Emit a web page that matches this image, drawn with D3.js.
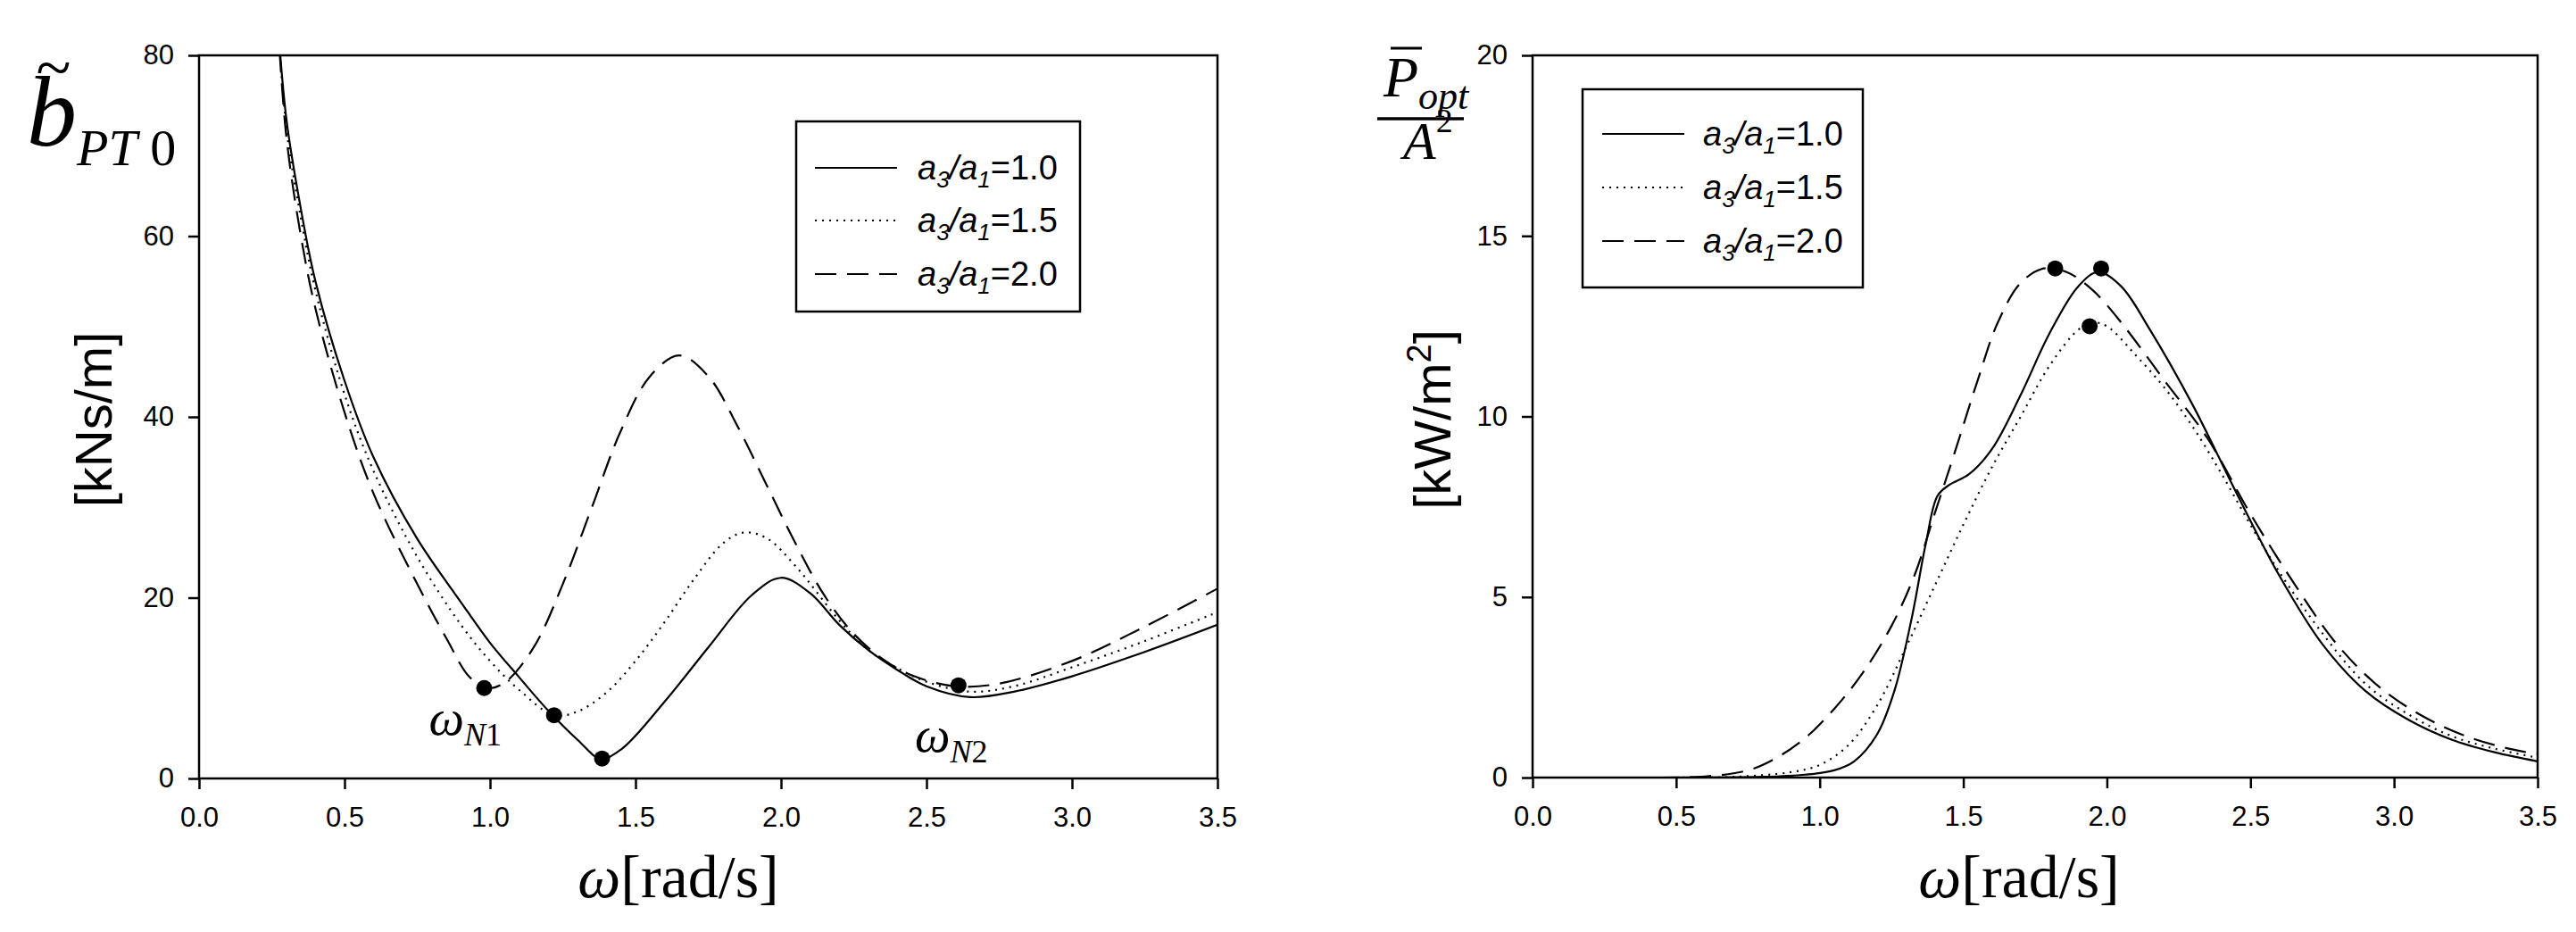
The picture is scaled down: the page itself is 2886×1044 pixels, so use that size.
<!DOCTYPE html>
<html><head><meta charset="utf-8">
<script src="https://cdn.jsdelivr.net/npm/d3@7"></script>
<style>body{margin:0;background:#fff}svg{display:block}
.tick text{font-family:"Liberation Sans Narrow","Liberation Sans",Arial,sans-serif;font-size:31px;fill:#000}</style>
</head><body><svg id="c" width="2886" height="1044"></svg>
<script>
// ---- data ----
const seriesNames = ["a3/a1=1.0","a3/a1=1.5","a3/a1=2.0"];
const xTicks = [0,0.5,1.0,1.5,2.0,2.5,3.0,3.5];
const leftYTicks = [0,20,40,60,80];
const rightYTicks = [0,5,10,15,20];
// left panel: b_PT0 [kNs/m]
const bW10 = [[0.27,84],[0.3,73],[0.35,63],[0.4,55],[0.5,44],[0.6,35.5],[0.75,26.5],[0.9,19.5],[1.0,15],[1.1,11.2],[1.2,7.5],[1.3,4.3],[1.38,2.2],[1.45,3.2],[1.6,8.5],[1.75,14.5],[1.9,20.3],[2.0,22.2],[2.1,20.5],[2.2,17],[2.3,14.2],[2.4,12],[2.5,10.2],[2.65,9.0],[2.8,9.6],[3.0,11.3],[3.25,14],[3.5,17]];
const bW15 = [[0.27,84],[0.3,72],[0.35,62],[0.4,54],[0.5,42.5],[0.6,34],[0.75,24.5],[0.9,17],[1.0,13],[1.1,9.8],[1.22,7.0],[1.3,7.4],[1.4,9.5],[1.5,13],[1.6,17.3],[1.7,22],[1.8,26],[1.87,27.2],[1.95,26.6],[2.05,23.5],[2.2,17.5],[2.3,14.2],[2.4,12.2],[2.5,10.7],[2.65,9.6],[2.8,10.2],[3.0,12.3],[3.25,15.2],[3.5,18.4]];
const bW20 = [[0.27,84],[0.3,71],[0.35,60],[0.4,52],[0.5,40.5],[0.6,31.5],[0.75,21.5],[0.85,15.5],[0.93,11.2],[0.99,10.0],[1.05,10.6],[1.15,14.5],[1.25,21.5],[1.35,30],[1.45,38.5],[1.55,44.5],[1.65,46.8],[1.75,44.5],[1.85,39],[1.95,32.5],[2.05,26],[2.15,20.2],[2.25,16],[2.35,13.2],[2.45,11.4],[2.6,10.2],[2.75,10.5],[3.0,13],[3.25,16.8],[3.5,21]];
const leftDots = [[0.98,10],[1.22,7],[1.385,2.2],[2.61,10.3]];
// right panel: P_opt / A^2 [kW/m^2]
const pW10 = [[0.1,0],[0.5,0],[0.8,0.02],[0.95,0.08],[1.05,0.2],[1.12,0.45],[1.2,1.2],[1.26,2.4],[1.32,4.4],[1.37,6.5],[1.41,7.8],[1.45,8.1],[1.52,8.4],[1.6,9.1],[1.7,10.6],[1.8,12.3],[1.9,13.6],[1.97,14.0],[2.05,13.6],[2.15,12.4],[2.3,10.3],[2.45,7.9],[2.6,5.6],[2.75,3.7],[2.9,2.4],[3.05,1.6],[3.2,1.05],[3.35,0.7],[3.5,0.45]];
const pW15 = [[0.1,0],[0.5,0],[0.7,0.02],[0.9,0.15],[1.0,0.35],[1.1,0.9],[1.2,2.0],[1.3,3.6],[1.4,5.3],[1.5,7.0],[1.6,8.6],[1.7,10.0],[1.8,11.4],[1.9,12.4],[1.95,12.6],[2.0,12.5],[2.1,11.7],[2.2,10.8],[2.3,9.7],[2.4,8.4],[2.5,7.0],[2.6,5.7],[2.75,4.0],[2.9,2.6],[3.05,1.75],[3.2,1.15],[3.35,0.8],[3.5,0.55]];
const pW20 = [[0.1,0],[0.45,0],[0.6,0.03],[0.75,0.2],[0.85,0.55],[0.95,1.1],[1.05,1.9],[1.15,2.9],[1.25,4.2],[1.33,5.6],[1.4,7.3],[1.47,9.0],[1.55,11.0],[1.62,12.6],[1.7,13.7],[1.78,14.1],[1.86,14.0],[1.95,13.5],[2.05,12.6],[2.2,11.0],[2.35,9.4],[2.5,7.3],[2.65,5.4],[2.8,3.7],[2.95,2.5],[3.1,1.7],[3.25,1.15],[3.4,0.8],[3.5,0.65]];
const rightDots = [[1.82,14.1],[1.98,14.1],[1.94,12.5]];

const dashes = [null,"2,6","24,12"];
const svg = d3.select("#c");
const TXT = 'font-family:"Liberation Sans",Arial,sans-serif';
const SER = 'font-family:"Liberation Serif","Times New Roman",serif';

function panel(x0,x1,y0,y1,yMax,yTicks,series,dots){
  const x = d3.scaleLinear().domain([0,3.5]).range([x0,x1]);
  const y = d3.scaleLinear().domain([0,yMax]).range([y1,y0]);
  const id = "clip"+x0;
  svg.append("clipPath").attr("id",id).append("rect").attr("x",x0).attr("y",y0).attr("width",x1-x0).attr("height",y1-y0);
  const line = d3.line().x(d=>x(d[0])).y(d=>y(d[1])).curve(d3.curveCatmullRom.alpha(0.5));
  series.forEach((s,i)=>{
    svg.append("path").attr("d",line(s)).attr("fill","none").attr("stroke","#000")
      .attr("stroke-width",2.2).attr("stroke-dasharray",dashes[i]).attr("clip-path",`url(#${id})`);
  });
  svg.selectAll(null).data(dots).join("circle").attr("cx",d=>x(d[0])).attr("cy",d=>y(d[1])).attr("r",9).attr("fill","#000");
  svg.append("rect").attr("x",x0).attr("y",y0).attr("width",x1-x0).attr("height",y1-y0).attr("fill","none").attr("stroke","#000").attr("stroke-width",2.5);
  const gx = svg.append("g").attr("transform",`translate(0,${y1})`)
    .call(d3.axisBottom(x).tickValues(xTicks).tickFormat(d3.format(".1f")).tickSize(12).tickPadding(20));
  const gy = svg.append("g").attr("transform",`translate(${x0},0)`)
    .call(d3.axisLeft(y).tickValues(yTicks).tickSize(12).tickPadding(16));
  [gx,gy].forEach(g=>{g.select(".domain").remove();g.selectAll("line").attr("stroke-width",2.5);});
  return {x,y};
}

const L = panel(223,1364,62,872,80,leftYTicks,[bW10,bW15,bW20],leftDots);
const R = panel(1717,2843,62,871,20,rightYTicks,[pW10,pW15,pW20],rightDots);

function legend(bx,by,bw,bh,lx,tx,ys){
  svg.append("rect").attr("x",bx).attr("y",by).attr("width",bw).attr("height",bh).attr("fill","#fff").attr("stroke","#000").attr("stroke-width",2.5);
  ys.forEach((yy,i)=>{
    svg.append("line").attr("x1",lx).attr("x2",lx+92).attr("y1",yy).attr("y2",yy).attr("stroke","#000").attr("stroke-width",2.2).attr("stroke-dasharray",dashes[i]);
    const t = svg.append("text").attr("x",tx).attr("y",yy+13).attr("style",TXT).attr("font-size",38);
    const val = seriesNames[i].split("=")[1];
    t.append("tspan").attr("font-style","italic").text("a");
    t.append("tspan").attr("font-style","italic").attr("font-size",26).attr("dy",9).text("3");
    t.append("tspan").attr("font-style","italic").attr("dy",-9).text("/a");
    t.append("tspan").attr("font-style","italic").attr("font-size",26).attr("dy",9).text("1");
    t.append("tspan").attr("dy",-9).text("="+val);
  });
}
legend(892,136,318,213,913,1028,[188,247,307]);
legend(1773,100,314,222,1795,1908,[150,210,270]);

function xTitle(cx){
  const t = svg.append("text").attr("x",cx).attr("y",1005).attr("text-anchor","middle").attr("style",SER).attr("font-size",68);
  t.append("tspan").attr("font-style","italic").text("ω");
  t.append("tspan").text("[rad/s]");
}
xTitle(760); xTitle(2262);

svg.append("text").attr("transform","translate(125,470) rotate(-90)").attr("text-anchor","middle")
  .attr("style",TXT).attr("font-size",58).text("[kNs/m]");
svg.append("text").attr("transform","translate(1625,470) rotate(-90)").attr("text-anchor","middle")
  .attr("style",TXT).attr("font-size",58).html('[kW/m<tspan font-size="38" dy="-22">2</tspan><tspan dy="22">]</tspan>');

// b~_PT0
const bt = svg.append("text").attr("x",30).attr("y",163).attr("style",SER).attr("font-size",112);
bt.append("tspan").attr("font-style","italic").text("b");
bt.append("tspan").attr("font-style","italic").attr("font-size",58).attr("dy",22).text("PT");
bt.append("tspan").attr("font-size",58).text(" 0");
svg.append("text").attr("x",60).attr("y",100).attr("style",SER).attr("font-size",72).attr("text-anchor","middle").text("~");

// P_opt / A^2
const pt = svg.append("text").attr("x",1550).attr("y",108).attr("style",SER).attr("font-size",64);
pt.append("tspan").attr("font-style","italic").text("P");
pt.append("tspan").attr("font-style","italic").attr("font-size",44).attr("dy",14).text("opt");
svg.append("line").attr("x1",1558).attr("x2",1593).attr("y1",54).attr("y2",54).attr("stroke","#000").attr("stroke-width",3);
svg.append("line").attr("x1",1543).attr("x2",1640).attr("y1",133).attr("y2",133).attr("stroke","#000").attr("stroke-width",3.5);
const at = svg.append("text").attr("x",1572).attr("y",178).attr("style",SER).attr("font-size",60);
at.append("tspan").attr("font-style","italic").text("A");
at.append("tspan").attr("font-size",38).attr("dy",-30).text("2");

function wn(xv,yv,sub){
  const t = svg.append("text").attr("x",L.x(xv)).attr("y",L.y(yv)).attr("style",SER).attr("font-size",56);
  t.append("tspan").attr("font-style","italic").text("ω");
  t.append("tspan").attr("font-style","italic").attr("font-size",36).attr("dy",12).text("N");
  t.append("tspan").attr("font-size",36).text("1".length&&sub);
}
wn(0.79,4.8,"1");
wn(2.46,3.0,"2");
</script></body></html>
